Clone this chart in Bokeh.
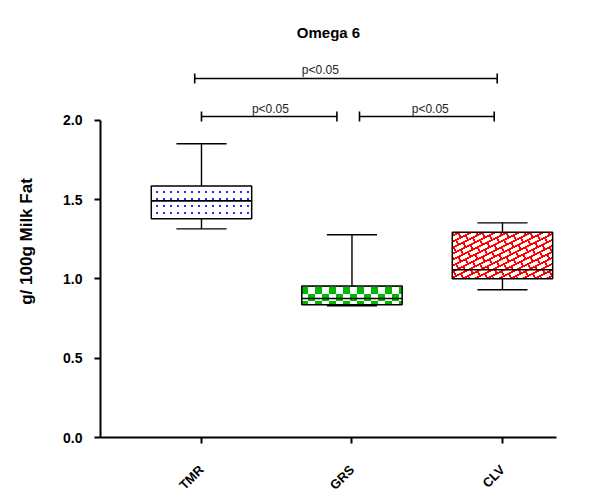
import zlib, struct, base64
import numpy as np
from bokeh.plotting import figure
from bokeh.models import Range1d, FixedTicker, ColumnDataSource, ImageURLTexture
from bokeh.core.properties import value
from bokeh.embed import file_html
from bokeh.resources import INLINE

# ---- data ----
groups = ["TMR", "GRS", "CLV"]
whisker_max = [1.853, 1.279, 1.354]
q3 = [1.586, 0.955, 1.295]
median = [1.493, 0.877, 1.058]
q1 = [1.380, 0.837, 1.001]
whisker_min = [1.316, 0.831, 0.932]

title_text = "Omega 6"
y_label = "g/ 100g Milk Fat"
y_ticks = [0.0, 0.5, 1.0, 1.5, 2.0]

# significance brackets
comp_labels = ["p<0.05", "p<0.05", "p<0.05"]
comp_levels = [2.265, 2.025, 2.025]
comp_x0 = [-0.045, 0.0, 1.05]
comp_x1 = [1.965, 0.9, 1.945]
comp_text_x = [0.79, 0.458, 1.52]

FONT = "Liberation Sans"


# ---- pattern tiles as tiny PNGs ----
def png_uri(rows):
    h = len(rows)
    w = len(rows[0])
    raw = b"".join(b"\x00" + bytes([c for px in row for c in px]) for row in rows)

    def chunk(t, d):
        return struct.pack(">I", len(d)) + t + d + struct.pack(">I", zlib.crc32(t + d) & 0xFFFFFFFF)

    png = (b"\x89PNG\r\n\x1a\n"
           + chunk(b"IHDR", struct.pack(">IIBBBBB", w, h, 8, 2, 0, 0, 0))
           + chunk(b"IDAT", zlib.compress(raw))
           + chunk(b"IEND", b""))
    return "data:image/png;base64," + base64.b64encode(png).decode()


WHITE = (255, 255, 255)
BLUE = (40, 40, 255)
GREEN = (0, 184, 0)
RED = (255, 0, 0)


def dots_tile(n=7):
    return [[BLUE if (2 <= x < 4 and 2 <= y < 4) else WHITE for x in range(n)] for y in range(n)]


def checker_tile(n=14):
    h = n // 2
    return [[GREEN if ((x < h) == (y < h)) else WHITE for x in range(n)] for y in range(n)]


def bricks_tile(n=24):
    # mortar lines rising to the right (x + 2y = const), staggered joints
    rows = []
    for y in range(n):
        row = []
        for x in range(n):
            px, py = x + 0.5, y + 0.5
            u, v = px + 2 * py, 2 * px - py
            red = abs(u - 12 * round(u / 12)) < 1.9
            b = int(np.floor(u / 12))
            target = 0 if b % 2 == 0 else 12
            dv = v - target
            if abs(dv - 24 * round(dv / 24)) < 1.9:
                red = True
            row.append(RED if red else WHITE)
        rows.append(row)
    return rows


textures = [
    ("dots", ImageURLTexture(url=png_uri(dots_tile()))),
    ("checker", ImageURLTexture(url=png_uri(checker_tile()))),
    ("bricks", ImageURLTexture(url=png_uri(bricks_tile()))),
]

# ---- figure ----
p = figure(width=600, height=503, output_backend="svg", toolbar_location=None,
           x_range=Range1d(-0.671, 2.359), y_range=Range1d(0, 2.473),
           min_border_left=100, min_border_right=44, min_border_top=45,
           min_border_bottom=66)
p.outline_line_color = None
p.xgrid.visible = False
p.ygrid.visible = False
p.background_fill_color = "white"
p.border_fill_color = "white"

p.title.text = title_text
p.title.align = "center"
p.title.text_font = FONT
p.title.text_font_size = "15px"
p.title.text_font_style = "bold"
p.title.text_color = "black"

xs = np.arange(len(groups))
box_w = 0.667
cap_w = 0.333

for i, (name, tex) in enumerate(textures):
    src = ColumnDataSource(dict(left=[xs[i] - box_w / 2], right=[xs[i] + box_w / 2],
                                top=[q3[i]], bottom=[q1[i]]))
    p.quad(left="left", right="right", top="top", bottom="bottom", source=src,
           fill_color="white", line_color="black", line_width=1.5,
           hatch_pattern=value(name), hatch_extra={name: tex})

src = ColumnDataSource(dict(x=xs, xl=xs - box_w / 2, xr=xs + box_w / 2,
                            cl=xs - cap_w / 2, cr=xs + cap_w / 2,
                            wmax=whisker_max, q3=q3, med=median, q1=q1, wmin=whisker_min))
p.segment(x0="xl", x1="xr", y0="med", y1="med", source=src, line_color="black", line_width=1.6)
p.segment(x0="x", x1="x", y0="q3", y1="wmax", source=src, line_color="black", line_width=1.4)
p.segment(x0="x", x1="x", y0="q1", y1="wmin", source=src, line_color="black", line_width=1.4)
p.segment(x0="cl", x1="cr", y0="wmax", y1="wmax", source=src, line_color="black", line_width=1.4)
p.segment(x0="cl", x1="cr", y0="wmin", y1="wmin", source=src, line_color="black", line_width=1.4)

# brackets
tick_h = 0.032
bsrc = ColumnDataSource(dict(x0=comp_x0, x1=comp_x1, y=comp_levels,
                             ylo=[v - tick_h for v in comp_levels],
                             yhi=[v + tick_h for v in comp_levels],
                             tx=comp_text_x, label=comp_labels))
p.segment(x0="x0", x1="x1", y0="y", y1="y", source=bsrc, line_color="black", line_width=1.4)
p.segment(x0="x0", x1="x0", y0="ylo", y1="yhi", source=bsrc, line_color="black", line_width=1.6)
p.segment(x0="x1", x1="x1", y0="ylo", y1="yhi", source=bsrc, line_color="black", line_width=1.6)
p.text(x="tx", y="y", text="label", source=bsrc, y_offset=-1,
       text_align="center", text_baseline="bottom",
       text_font=value(FONT), text_font_size="12px", text_color="#222222")

# axes
p.yaxis.bounds = (0, 2)
p.yaxis.ticker = FixedTicker(ticks=y_ticks)
p.yaxis.major_label_overrides = {t: f"{t:.1f}" for t in y_ticks}
p.yaxis.axis_label = y_label
p.yaxis.axis_label_text_font = FONT
p.yaxis.axis_label_text_font_size = "17px"
p.yaxis.axis_label_text_font_style = "bold"
p.yaxis.axis_label_text_color = "black"
p.yaxis.axis_label_standoff = 24

p.xaxis.ticker = FixedTicker(ticks=list(xs))
p.xaxis.major_label_overrides = {int(i): g for i, g in zip(xs, groups)}
p.xaxis.major_label_orientation = np.pi / 4

for ax in (p.xaxis, p.yaxis):
    ax.axis_line_width = 2
    ax.axis_line_color = "black"
    ax.major_tick_line_width = 2
    ax.major_tick_line_color = "black"
    ax.major_tick_out = 6
    ax.major_tick_in = 0
    ax.minor_tick_line_color = None
    ax.major_label_text_font = FONT
    ax.major_label_text_font_style = "bold"
    ax.major_label_text_color = "black"
p.yaxis.major_label_text_font_size = "14px"
p.yaxis.major_label_standoff = 12
p.xaxis.major_label_text_font_size = "13px"
p.xaxis.major_label_standoff = 24

open("out.html", "w").write(file_html(p, INLINE))
